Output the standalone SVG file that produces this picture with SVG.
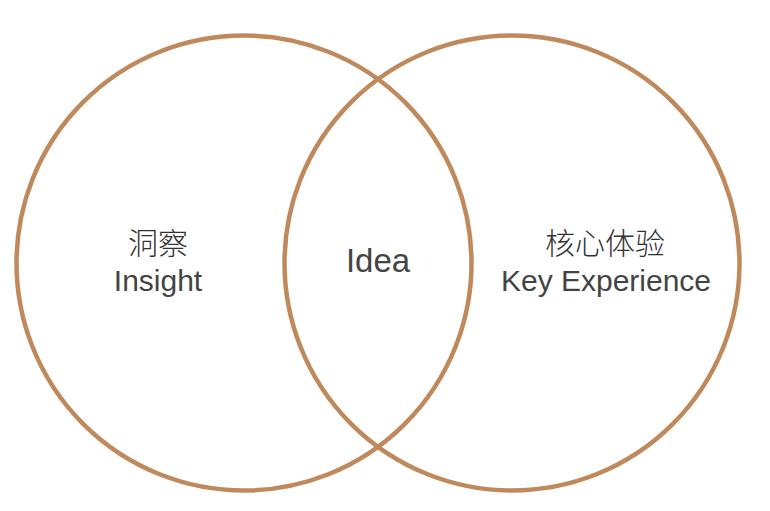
<svg xmlns="http://www.w3.org/2000/svg" width="770" height="511" viewBox="0 0 770 511">
<style>
.ring{fill:none;stroke:#C0895C;stroke-width:4.5}
.t{font-family:"Liberation Sans","Noto Sans CJK SC",sans-serif;fill:#444;text-anchor:middle}
.cn{font-family:"Noto Sans CJK SC",sans-serif;font-weight:300;fill:#333;text-anchor:middle;font-size:30px}
</style>
<rect width="770" height="511" fill="#fff"/>
<g id="connectors"></g>
<g id="insight">
<circle class="ring" cx="244" cy="263" r="227.5"/>
<text class="cn" x="158" y="254">洞察</text>
<text class="t" x="158" y="291" font-size="30">Insight</text>
</g>
<g id="key-experience">
<circle class="ring" cx="512" cy="263" r="227.5"/>
<text class="cn" x="605" y="254">核心体验</text>
<text class="t" x="606" y="291" font-size="30">Key Experience</text>
</g>
<g id="idea">
<text class="t" x="378" y="272" font-size="33">Idea</text>
</g>
</svg>
